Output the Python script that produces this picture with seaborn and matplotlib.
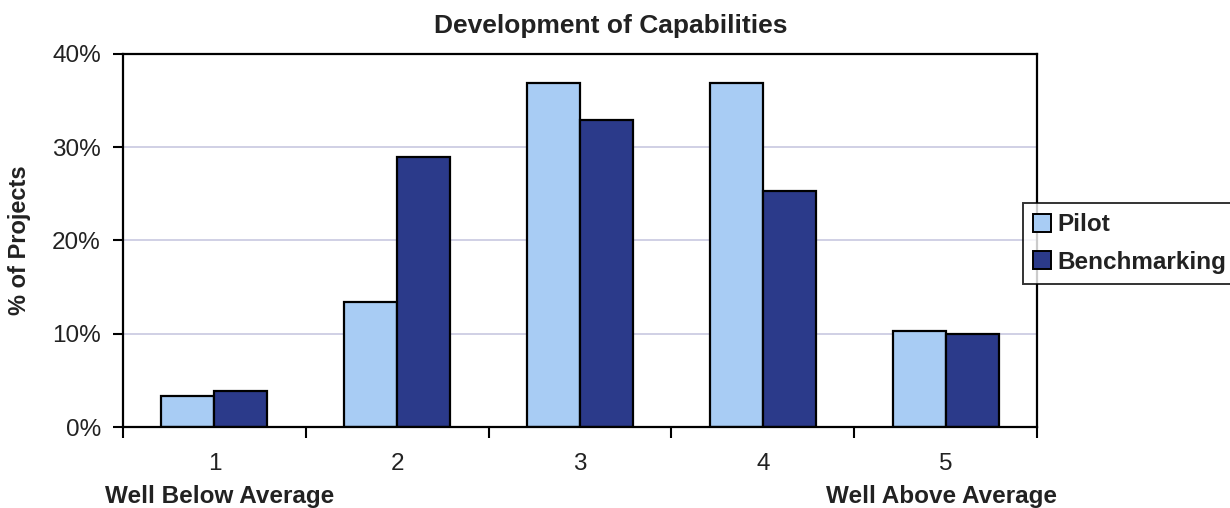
import numpy as np
import pandas as pd
import matplotlib
matplotlib.use("Agg")
import matplotlib.pyplot as plt
from matplotlib.patches import Patch
from matplotlib.ticker import FixedLocator, FuncFormatter
import seaborn as sns

# Rating scale and share of projects (%) per rating
ratings = ["1", "2", "3", "4", "5"]
pilot = [3.3, 13.4, 36.9, 36.9, 10.3]
benchmarking = [3.9, 29.0, 32.9, 25.3, 10.0]
series_names = ["Pilot", "Benchmarking"]
y_ticks = [0, 10, 20, 30, 40]

df = pd.DataFrame({
    "rating": ratings * 2,
    "pct": pilot + benchmarking,
    "series": [series_names[0]] * len(ratings) + [series_names[1]] * len(ratings),
})

sns.set_theme(style="white")
plt.rcParams["font.family"] = ["Liberation Sans", "DejaVu Sans"]

colors = ["#A8CCF4", "#2B3A8A"]
text_color = "#222222"

fig = plt.figure(figsize=(12.3, 5.08), dpi=100)
ax = fig.add_axes([123 / 1230, 1 - 427 / 508, (1037 - 123) / 1230, (427 - 54) / 508])

sns.barplot(data=df, x="rating", y="pct", hue="series", palette=colors,
            saturation=1, width=0.58, gap=0, edgecolor="black", linewidth=1.6,
            legend=False, ax=ax)

ax.set_xlim(-0.5, len(ratings) - 0.5)
ax.set_ylim(0, 40)

# Y axis: percent labels with light gridlines
ax.set_yticks(y_ticks)
ax.yaxis.set_major_formatter(FuncFormatter(lambda v, p: f"{v:.0f}%"))
ax.yaxis.grid(True, color="#C4C4DE", linewidth=1.1)
ax.set_axisbelow(True)
ax.tick_params(axis="y", which="major", left=True, direction="out", length=7,
               width=1.5, color="black", labelsize=17.5, pad=9,
               labelcolor=text_color)

# X axis: tick marks at category boundaries, labels at category centres
ax.xaxis.set_major_locator(FixedLocator(np.arange(-0.5, len(ratings), 1.0)))
ax.xaxis.set_minor_locator(FixedLocator(np.arange(len(ratings))))
ax.set_xticklabels([""] * (len(ratings) + 1))
ax.set_xticklabels(ratings, minor=True)
ax.tick_params(axis="x", which="major", bottom=True, direction="out", length=8,
               width=1.5, color="black")
ax.tick_params(axis="x", which="minor", bottom=True, length=0, labelsize=17.5,
               pad=19, labelcolor=text_color)

for s in ax.spines.values():
    s.set_color("black")
    s.set_linewidth(1.6)

ax.set_xlabel("")
ax.set_ylabel("% of Projects", fontsize=17, fontweight="bold", color=text_color)
ax.yaxis.set_label_coords(-0.101, 0.5)
ax.set_title("Development of Capabilities", fontsize=19, fontweight="bold",
             pad=15, color=text_color, x=(611 - 123) / 914)

# End-of-scale descriptions under ratings 1 and 5
trans = matplotlib.transforms.blended_transform_factory(ax.transData, fig.transFigure)
ax.text(0.03, 1 - 497 / 508, "Well Below Average", transform=trans, ha="center",
        va="center", fontsize=17.5, fontweight="bold", color=text_color)
ax.text(3.98, 1 - 497 / 508, "Well Above Average", transform=trans, ha="center",
        va="center", fontsize=17.5, fontweight="bold", color=text_color)

handles = [Patch(facecolor=c, edgecolor="black", linewidth=1.4) for c in colors]
leg = fig.legend(handles, series_names, loc="upper left",
                 bbox_to_anchor=(1023 / 1230, 1 - 203 / 508),
                 frameon=True, fancybox=False, edgecolor="black",
                 prop={"weight": "bold", "size": 17.5},
                 handlelength=0.75, handleheight=0.75, handletextpad=0.25,
                 borderpad=0.42, labelspacing=0.6, borderaxespad=0)
leg.get_frame().set_linewidth(1.4)
for t in leg.get_texts():
    t.set_color(text_color)

fig.savefig("out.png", dpi=100, facecolor="white")
